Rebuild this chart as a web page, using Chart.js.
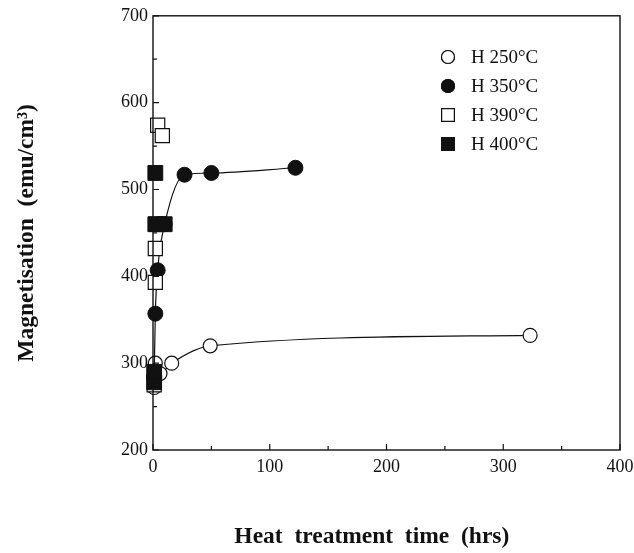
<!DOCTYPE html>
<html>
<head>
<meta charset="utf-8">
<script src="https://cdn.jsdelivr.net/npm/chart.js@4/dist/chart.umd.min.js"></script>
<style>
  html, body { margin: 0; padding: 0; background: #fff; }
  #wrap { width: 634px; height: 553px; }
</style>
</head>
<body>
<div id="wrap"><canvas id="magChart"></canvas></div>
<script>
// ================= DATA =================
const seriesLabels = ["H 250°C", "H 350°C", "H 390°C", "H 400°C"];

const hrs250 = [1, 2, 6, 16, 49, 323];
const mag250 = [272, 300, 288, 300, 320, 332];

const hrs350 = [1, 2, 4, 10, 27, 50, 122];
const mag350 = [284, 357, 407, 460, 517, 519, 525];

const hrs390 = [1, 2, 2, 3, 4, 8];
const mag390 = [275, 393, 432, 460, 574, 562];

const hrs400 = [1, 1, 2, 2, 10];
const mag400 = [278, 290, 460, 519, 460];

const xTicks = [0, 100, 200, 300, 400];
const yTicks = [200, 300, 400, 500, 600, 700];

const toPts = (xs, ys) => xs.map((x, i) => ({ x: x, y: ys[i] }));

const serif = "'Liberation Serif', 'DejaVu Serif', serif";

// frame + inward ticks + inside legend
const framePlugin = {
  id: "frame",
  afterDraw(chart) {
    const ctx = chart.ctx;
    const a = chart.chartArea;
    const xs = chart.scales.x, ys = chart.scales.y;
    ctx.save();
    ctx.strokeStyle = "#111";
    ctx.lineWidth = 1.4;
    ctx.strokeRect(a.left, a.top, a.right - a.left, a.bottom - a.top);

    ctx.lineWidth = 1.2;
    ctx.beginPath();
    for (let v = 0; v <= 400; v += 50) {
      const px = xs.getPixelForValue(v);
      const len = v % 100 === 0 ? 6 : 4;
      ctx.moveTo(px, a.bottom);
      ctx.lineTo(px, a.bottom - len);
    }
    for (let v = 200; v <= 700; v += 50) {
      const py = ys.getPixelForValue(v);
      const len = v % 100 === 0 ? 6 : 4;
      ctx.moveTo(a.left, py);
      ctx.lineTo(a.left + len, py);
    }
    ctx.stroke();

    // legend
    ctx.font = "19px " + serif;
    ctx.textBaseline = "middle";
    chart.data.datasets.forEach((ds, i) => {
      const y = 57 + i * 29;
      const isRect = ds.pointStyle === "rect";
      ctx.fillStyle = ds.pointBackgroundColor;
      ctx.strokeStyle = "#111";
      ctx.lineWidth = 1.2;
      Chart.helpers.drawPoint(ctx, {
        pointStyle: ds.pointStyle,
        radius: isRect ? 9 : 6.5,
        borderWidth: 1.2
      }, 448, y);
      ctx.fill();
      ctx.stroke();
      ctx.fillStyle = "#111";
      ctx.fillText(ds.label, 471, y + 1);
    });
    ctx.restore();
  }
};

const chart = new Chart(document.getElementById("magChart").getContext("2d"), {
  type: "scatter",
  data: {
    datasets: [
      {
        label: seriesLabels[0],
        data: toPts(hrs250, mag250),
        showLine: true,
        clip: false,
        borderColor: "#111",
        borderWidth: 1.2,
        cubicInterpolationMode: "monotone",
        pointStyle: "circle",
        pointRadius: 7,
        pointBorderWidth: 1.2,
        pointBorderColor: "#111",
        pointBackgroundColor: "#fff",
        order: 3
      },
      {
        label: seriesLabels[1],
        data: toPts(hrs350, mag350),
        showLine: true,
        clip: false,
        borderColor: "#111",
        borderWidth: 1.2,
        cubicInterpolationMode: "monotone",
        pointStyle: "circle",
        pointRadius: 7.5,
        pointBorderWidth: 1,
        pointBorderColor: "#111",
        pointBackgroundColor: "#111",
        order: 2
      },
      {
        label: seriesLabels[2],
        data: toPts(hrs390, mag390),
        showLine: false,
        clip: false,
        pointStyle: "rect",
        pointRadius: 10,
        pointBorderWidth: 1.2,
        pointBorderColor: "#111",
        pointBackgroundColor: "#fff",
        order: 1
      },
      {
        label: seriesLabels[3],
        data: toPts(hrs400, mag400),
        showLine: false,
        clip: false,
        pointStyle: "rect",
        pointRadius: 10.5,
        pointBorderWidth: 1,
        pointBorderColor: "#111",
        pointBackgroundColor: "#111",
        order: 0
      }
    ]
  },
  options: {
    responsive: true,
    maintainAspectRatio: false,
    animation: false,
    layout: { padding: { left: 0, top: 14, right: 14, bottom: 0 } },
    plugins: {
      legend: { display: false },
      tooltip: { enabled: false }
    },
    scales: {
      x: {
        type: "linear",
        min: 0,
        max: 400,
        afterBuildTicks: s => { s.ticks = xTicks.map(v => ({ value: v })); },
        afterFit: s => { s.height = 103; s.paddingLeft = 0; s.paddingRight = 0; },
        border: { display: false },
        grid: { display: false, drawTicks: false },
        ticks: {
          padding: 6,
          color: "#111",
          font: { family: serif, size: 18 }
        },
        title: {
          display: true,
          // trailing spaces nudge the centred title a little to the left
          text: "Heat  treatment  time  (hrs)     ",
          color: "#111",
          font: { family: serif, size: 23.5, weight: "bold" },
          padding: { top: 0, bottom: 2 }
        }
      },
      y: {
        type: "linear",
        min: 200,
        max: 700,
        afterBuildTicks: s => { s.ticks = yTicks.map(v => ({ value: v })); },
        afterFit: s => { s.width = 153; },
        border: { display: false },
        grid: { display: false, drawTicks: false },
        ticks: {
          padding: 5,
          color: "#111",
          font: { family: serif, size: 18 }
        },
        title: {
          display: true,
          text: "Magnetisation  (emu/cm³)",
          color: "#111",
          font: { family: serif, size: 23.5, weight: "bold" },
          padding: { top: 13, bottom: 0 }
        }
      }
    }
  },
  plugins: [framePlugin]
});
</script>
</body>
</html>
